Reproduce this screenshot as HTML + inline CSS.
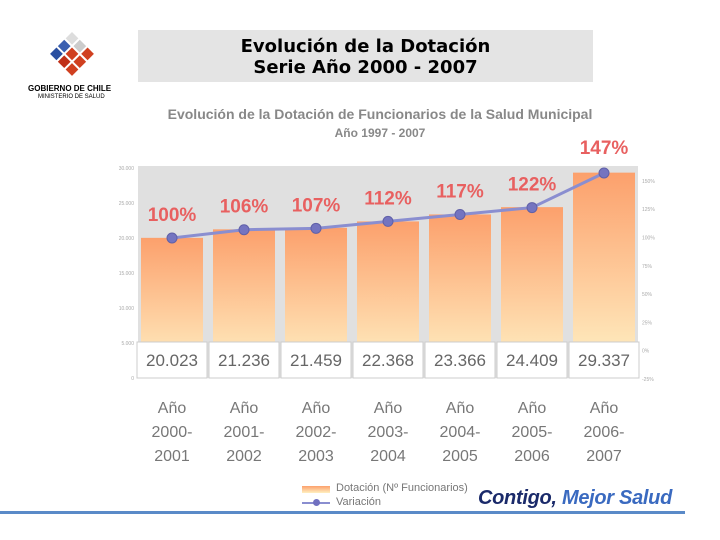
<!DOCTYPE html>
<html><head><meta charset="utf-8"><style>
body{margin:0;width:720px;height:540px;background:#fff;font-family:"Liberation Sans",sans-serif;position:relative;overflow:hidden}
.a{position:absolute}
</style></head><body>
<div class="a" style="left:28px;top:28px;width:84px;height:78px">
<svg width="84" height="60">
<g transform="translate(44,4) rotate(45)">
<rect x="0" y="0" width="9" height="9" fill="#ddd"/><rect x="11" y="0" width="9" height="9" fill="#ccc"/><rect x="0" y="11" width="9" height="9" fill="#3a5fb0"/><rect x="11" y="11" width="9" height="9" fill="#d04020"/><rect x="22" y="11" width="9" height="9" fill="#d04020"/><rect x="11" y="22" width="9" height="9" fill="#c03018"/><rect x="22" y="22" width="9" height="9" fill="#d04020"/><rect x="0" y="22" width="9" height="9" fill="#2a4fa0"/><rect x="22" y="0" width="9" height="9" fill="#d04020"/>
</g></svg>
<div class="a" style="top:56px;left:0px;font-size:8px;font-weight:bold;white-space:nowrap">GOBIERNO DE CHILE</div>
<div class="a" style="top:66px;left:10px;font-size:6px;white-space:nowrap">MINISTERIO DE SALUD</div>
</div>
<div class="a" style="left:138px;top:30px;width:455px;height:52px;background:#e4e4e4;text-align:center;font-weight:bold;font-size:18px;line-height:21px;padding-top:6px;box-sizing:border-box;font-family:'DejaVu Sans',sans-serif">Evolución de la Dotación<br>Serie Año 2000 - 2007</div>
<div class="a" style="left:100px;width:560px;top:105px;text-align:center;color:#888;font-weight:bold;font-size:14px;line-height:18px">Evolución de la Dotación de Funcionarios de la Salud Municipal<br><span style="font-size:12px">Año 1997 - 2007</span></div>
<svg class="a" style="left:0;top:0" width="720" height="540">
<defs><linearGradient id="g" x1="0" y1="0" x2="0" y2="1"><stop offset="0" stop-color="#fca06c"/><stop offset="1" stop-color="#fff4c8"/></linearGradient></defs>
<rect x="138" y="166" width="500" height="212" fill="#e0e0e0"/>
<g id="bars"></g><g id="axes" font-size="5" fill="#aaa"></g><g id="line"></g><g id="tbl"></g>
</svg>
<div class="a" style="left:300px;top:482px;font-size:11px;color:#777">
<div style="position:absolute;left:2px;top:4px;width:28px;height:7px;background:linear-gradient(#fca06c,#fff0c0)"></div>
<div style="position:absolute;left:36px;top:0;white-space:nowrap">Dotación (Nº Funcionarios)</div>
<div style="position:absolute;left:2px;top:20px;width:28px;height:2px;background:#8a8ed0"></div>
<div style="position:absolute;left:13px;top:17px;width:7px;height:7px;border-radius:50%;background:#7070c0"></div>
<div style="position:absolute;left:36px;top:14px;white-space:nowrap">Variación</div>
</div>
<div class="a" style="left:478px;top:487px;font-size:20px;font-weight:bold;font-style:italic;color:#1a2a6a;white-space:nowrap;letter-spacing:-0.3px">Contigo, <span style="color:#3a6ac0">Mejor Salud</span></div>
<div class="a" style="left:0;top:511px;width:685px;height:3px;background:#5a8ac8"></div>
<script>
const categories=["Año 2000-2001","Año 2001-2002","Año 2002-2003","Año 2003-2004","Año 2004-2005","Año 2005-2006","Año 2006-2007"];
const dotacion=[20023,21236,21459,22368,23366,24409,29337];
const dotacionLabels=["20.023","21.236","21.459","22.368","23.366","24.409","29.337"];
const variacion=[100,106,107,112,117,122,147];
const leftTicks=[0,5000,10000,15000,20000,25000,30000];
const rightTicks=["-25%","0%","25%","50%","75%","100%","125%","150%"];
const NS="http://www.w3.org/2000/svg";
function xC(i){return 172+i*72;}
function yL(v){return 378-v*0.007;}
function yR(p){return 238-(p-100)*1.383;}
function mk(t,a,p){const e=document.createElementNS(NS,t);for(const k in a)e.setAttribute(k,a[k]);p.appendChild(e);return e;}
const bars=document.getElementById('bars'),ax=document.getElementById('axes'),ln=document.getElementById('line'),tb=document.getElementById('tbl');
leftTicks.forEach(v=>{const t=mk('text',{x:134,y:yL(v)+2,'text-anchor':'end'},ax);t.textContent=v===0?"0":(v/1000)+".000";

});
rightTicks.forEach((s,i)=>{const t=mk('text',{x:642,y:379-i*28.3+2},ax);t.textContent=s;

});
dotacion.forEach((v,i)=>{const r=mk('rect',{x:xC(i)-31,y:yL(v),width:62,height:378-yL(v),fill:'url(#g)'},bars);

});
let d=variacion.map((p,i)=>(i?'L':'M')+xC(i)+','+yR(p)).join(' ');
const pth=mk('path',{d:d,fill:'none',stroke:'#8a8ed0','stroke-width':3},ln);


variacion.forEach((p,i)=>{const c=mk('circle',{cx:xC(i),cy:yR(p),r:5,fill:'#7474c0',stroke:'#6060a8'},ln);


const t=mk('text',{x:xC(i),y:yR(p)-(i==6?19:17),'text-anchor':'middle','font-size':19,'font-weight':'bold',fill:'#e86060'},ln);t.textContent=p+"%";

});
dotacionLabels.forEach((s,i)=>{const r=mk('rect',{x:xC(i)-35,y:342,width:70,height:36,fill:'#fff',stroke:'#ccc'},tb);


const t=mk('text',{x:xC(i),y:366,'text-anchor':'middle','font-size':17,fill:'#666'},tb);t.textContent=s;


const parts=categories[i].split(' ');const yrs=parts[1].split('-');
[parts[0],yrs[0]+'-',yrs[1]].forEach((w,j)=>{const q=mk('text',{x:xC(i),y:413+j*24,'text-anchor':'middle','font-size':16,fill:'#777'},tb);q.textContent=w;

});});
</script>
</body></html>
